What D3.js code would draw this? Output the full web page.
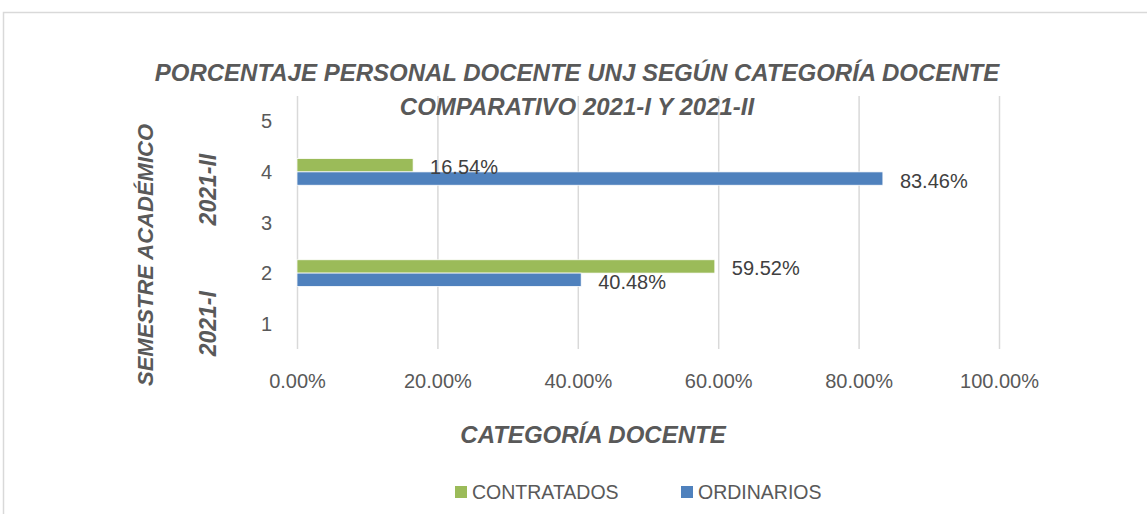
<!DOCTYPE html>
<html>
<head>
<meta charset="utf-8">
<script src="https://cdn.jsdelivr.net/npm/d3@7/dist/d3.min.js"></script>
<style>
  body { margin: 0; background: #fff; }
  svg { font-family: "Liberation Sans", Arial, sans-serif; }
</style>
</head>
<body>
<svg id="chart" width="1147" height="514"></svg>
<script>
const categories = ["1", "2", "3", "4", "5"];
const seriesNames = ["CONTRATADOS", "ORDINARIOS"];
const contratados = [null, 59.52, null, 16.54, null];
const ordinarios = [null, 40.48, null, 83.46, null];
const xTicks = [0, 20, 40, 60, 80, 100];
const semesters = ["2021-I", "2021-II"];
const semesterAt = [1.0, 3.65];
const titleLines = ["PORCENTAJE PERSONAL DOCENTE UNJ SEGÚN CATEGORÍA DOCENTE", "COMPARATIVO 2021-I Y 2021-II"];

const colors = { CONTRATADOS: "#9bbb59", ORDINARIOS: "#4f81bd" };
const textColor = "#595959";

const svg = d3.select("#chart");
const width = 1147, height = 514;
const margin = { top: 96, right: 148, bottom: 165, left: 297 };

// chart frame
svg.append("path")
  .attr("d", `M3.5,${height} V12.5 H${width}`)
  .attr("fill", "none")
  .attr("stroke", "#d9d9d9")
  .attr("stroke-width", 1.5);

const x = d3.scaleLinear().domain([0, 100]).range([margin.left, width - margin.right]);
const y = d3.scaleBand().domain(categories.slice().reverse()).range([margin.top, height - margin.bottom]);
const yLin = d3.scaleLinear().domain([0.5, 5.5]).range([height - margin.bottom, margin.top]);
const ySub = d3.scaleBand().domain(seriesNames).range([0, y.bandwidth()]).paddingOuter(0.9);

// gridlines
svg.append("g")
  .attr("transform", `translate(0,${height - margin.bottom})`)
  .call(d3.axisBottom(x).tickValues(xTicks).tickSize(-(height - margin.top - margin.bottom)).tickFormat(""))
  .call(g => g.select(".domain").remove())
  .call(g => g.selectAll("line").attr("stroke", "#d9d9d9").attr("stroke-width", 1.5));

// x tick labels
svg.append("g")
  .attr("transform", `translate(0,${height - margin.bottom + 22})`)
  .call(d3.axisBottom(x).tickValues(xTicks).tickSize(0).tickFormat(d => d.toFixed(2) + "%"))
  .call(g => g.select(".domain").remove())
  .call(g => g.selectAll("text").attr("fill", textColor).attr("font-size", 20).attr("font-family", null));

// y tick labels
svg.append("g")
  .attr("transform", `translate(${margin.left - 22},0)`)
  .call(d3.axisLeft(y).tickSize(0))
  .call(g => g.select(".domain").remove())
  .call(g => g.selectAll("text").attr("fill", textColor).attr("font-size", 20).attr("font-family", null).attr("dy", "0.35em"));

// bars
const rows = [];
categories.forEach((c, i) => {
  if (contratados[i] != null) rows.push({ cat: c, series: "CONTRATADOS", value: contratados[i] });
  if (ordinarios[i] != null) rows.push({ cat: c, series: "ORDINARIOS", value: ordinarios[i] });
});

svg.append("g").selectAll("rect")
  .data(rows)
  .enter()
  .append("rect")
  .attr("x", x(0))
  .attr("y", d => y(d.cat) + ySub(d.series))
  .attr("width", d => x(d.value) - x(0))
  .attr("height", ySub.bandwidth())
  .attr("fill", d => colors[d.series])
  .attr("stroke", "#fff")
  .attr("stroke-width", 0.75);

// data labels
svg.append("g").selectAll("text")
  .data(rows)
  .enter()
  .append("text")
  .attr("x", d => x(d.value) + 17)
  .attr("y", d => y(d.cat) + ySub(d.series) + ySub.bandwidth() / 2 + 2)
  .attr("dy", "0.35em")
  .attr("fill", "#404040")
  .attr("font-size", 20)
  .text(d => d.value.toFixed(2) + "%");

// title
svg.append("g").selectAll("text")
  .data(titleLines)
  .enter()
  .append("text")
  .attr("x", 577)
  .attr("y", (d, i) => 81 + i * 34)
  .attr("text-anchor", "middle")
  .attr("font-size", 24)
  .attr("font-weight", "bold")
  .attr("font-style", "italic")
  .attr("fill", textColor)
  .text(d => d);

// x axis title
svg.append("text")
  .attr("x", 593)
  .attr("y", 443)
  .attr("text-anchor", "middle")
  .attr("font-size", 24)
  .attr("font-weight", "bold")
  .attr("font-style", "italic")
  .attr("fill", textColor)
  .text("CATEGORÍA DOCENTE");

// y axis title
svg.append("text")
  .attr("transform", "translate(153,255) rotate(-90)")
  .attr("text-anchor", "middle")
  .attr("font-size", 22)
  .attr("font-weight", "bold")
  .attr("font-style", "italic")
  .attr("fill", textColor)
  .text("SEMESTRE ACADÉMICO");

// semester group labels
svg.append("g").selectAll("text")
  .data(semesters)
  .enter()
  .append("text")
  .attr("transform", (d, i) => `translate(216,${yLin(semesterAt[i])}) rotate(-90)`)
  .attr("text-anchor", "middle")
  .attr("font-size", 23)
  .attr("font-weight", "bold")
  .attr("font-style", "italic")
  .attr("fill", textColor)
  .text(d => d);

// legend
const legend = svg.append("g").attr("transform", "translate(455,492)");
const legendItems = legend.selectAll("g")
  .data(seriesNames)
  .enter()
  .append("g")
  .attr("transform", (d, i) => `translate(${i * 226},0)`);
legendItems.append("rect")
  .attr("x", 0).attr("y", -6)
  .attr("width", 12).attr("height", 12)
  .attr("fill", d => colors[d]);
legendItems.append("text")
  .attr("x", 17)
  .attr("dy", "0.35em")
  .attr("font-size", 19.5)
  .attr("fill", textColor)
  .text(d => d);
</script>
</body>
</html>
